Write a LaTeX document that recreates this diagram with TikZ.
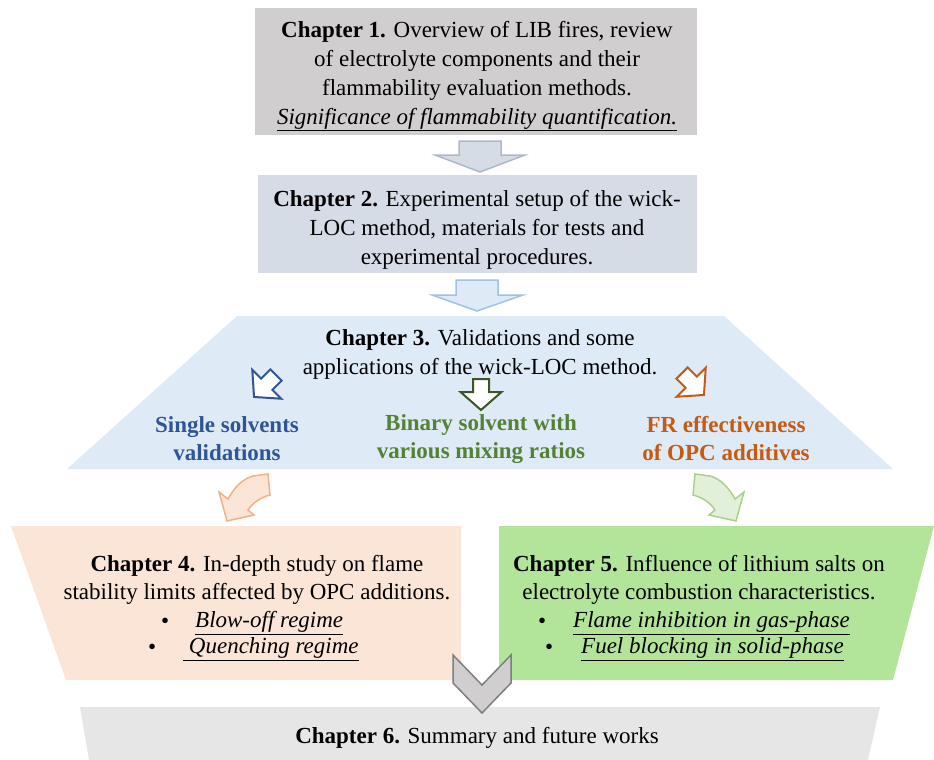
\documentclass[tikz,border=0pt]{standalone}
\usepackage{fontspec}
\setmainfont{Liberation Serif}
\definecolor{cAfill}{HTML}{D0CECE}
\definecolor{cBfill}{HTML}{D6DCE5}
\definecolor{cBline}{HTML}{ADB9CA}
\definecolor{cCfill}{HTML}{DEEBF7}
\definecolor{cCline}{HTML}{9DC3E6}
\definecolor{cDfill}{HTML}{FBE5D6}
\definecolor{cDline}{HTML}{F4B183}
\definecolor{cEfill}{HTML}{B2E59A}
\definecolor{cEsoft}{HTML}{E2F0D9}
\definecolor{cEline}{HTML}{A9D18E}
\definecolor{cFfill}{HTML}{E6E6E6}
\definecolor{chevline}{HTML}{7F7F7F}
\definecolor{tblue}{HTML}{2F5597}
\definecolor{tgreen}{HTML}{548235}
\definecolor{tdkgreen}{HTML}{385723}
\definecolor{torange}{HTML}{C55A11}
\begin{document}
\begin{tikzpicture}[x=1pt,y=-1pt,
  txt/.style={font=\fontsize{23}{29}\selectfont, align=center, inner sep=0pt},
  sub/.style={txt, font=\fontsize{23}{28}\selectfont\bfseries},
  blockarrow/.pic={\path[pic actions] (-8,-15.5) -- (8,-15.5) -- (8,-2.5) -- (20.5,-2.5) -- (0,15.5) -- (-20.5,-2.5) -- (-8,-2.5) -- cycle;}
]
\useasboundingbox (0,0) rectangle (934,760);

% Chapter 1
\fill[cAfill] (255,8) rectangle (697,135);
\node[txt] (c1) at (477,76) {\textbf{Chapter 1.} Overview of LIB fires, review\\of electrolyte components and their\\flammability evaluation methods.\\\underline{\textit{Significance of flammability quantification.}}};

% arrow 1
\draw[fill=cBfill, draw=cBline, line width=1.5pt] (459,141) -- (501,141) -- (501,155) -- (525,155) -- (480,172) -- (435,155) -- (459,155) -- cycle;

% Chapter 2
\fill[cBfill] (258,175) rectangle (697,273);
\node[txt] (c2) at (477,229.5) {\textbf{Chapter 2.} Experimental setup of the wick-\\LOC method, materials for tests and\\experimental procedures.};

% arrow 2
\draw[fill=cCfill, draw=cCline, line width=1.5pt] (456,280) -- (498,280) -- (498,295) -- (523,295) -- (477,311) -- (432,295) -- (456,295) -- cycle;

% Chapter 3
\fill[cCfill] (237,316) -- (724,316) -- (893,469) -- (67,469) -- cycle;
\node[txt] (c3) at (480,354) {\textbf{Chapter 3.} Validations and some\\applications of the wick-LOC method.};
\pic[draw=tblue, fill=white, line width=2pt, rotate=-45] at (265,386) {blockarrow};
\pic[draw=tdkgreen, fill=white, line width=2pt] at (481,394.5) {blockarrow};
\pic[draw=torange, fill=white, line width=2pt, rotate=45] at (693,384) {blockarrow};
\node[sub, text=tblue] (s1) at (227,439) {Single solvents\\validations};
\node[sub, text=tgreen] (s2) at (481,439) {Binary solvent with\\various mixing ratios};
\node[sub, text=torange] (s3) at (726,439) {FR effectiveness\\of OPC additives};

% curved arrows
\draw[fill=cDfill, draw=cDline, line width=1.5pt] (253,476) -- (268,474) -- (270,495)
  .. controls (262,497) and (253,502) .. (248,510) -- (254,515) -- (227,521) -- (219,492) -- (228,499)
  .. controls (234,488) and (242,479) .. (253,476) -- cycle;
\draw[fill=cEsoft, draw=cEline, line width=1.5pt] (710,476) -- (695,474) -- (693,495)
  .. controls (701,497) and (710,502) .. (715,510) -- (709,515) -- (736,521) -- (744,492) -- (735,499)
  .. controls (729,488) and (721,479) .. (710,476) -- cycle;

% Chapter 4
\fill[cDfill] (11,526) -- (461,526) -- (461,680) -- (66,680) -- cycle;
\node[txt, font=\fontsize{23}{28}\selectfont] (c4) at (257,580) {\textbf{Chapter 4.} In-depth study on flame\\stability limits affected by OPC additions.};
\node[txt, anchor=west] (b4a) at (161,623) {•};
\node[txt, anchor=west] (t4a) at (195,623) {\underline{\textit{Blow-off regime}}};
\node[txt, anchor=west] (b4b) at (148,649) {•};
\node[txt, anchor=west] (t4b) at (183,649) {\underline{\textit{\ Quenching regime}}};

% Chapter 5
\fill[cEfill] (499,526) -- (934,526) -- (893,680) -- (499,680) -- cycle;
\node[txt, font=\fontsize{23}{28}\selectfont] (c5) at (699,580) {\textbf{Chapter 5.} Influence of lithium salts on\\electrolyte combustion characteristics.};
\node[txt, anchor=west] (b5a) at (538,623) {•};
\node[txt, anchor=west] (t5a) at (573,623) {\underline{\textit{Flame inhibition in gas-phase}}};
\node[txt, anchor=west] (b5b) at (545,649) {•};
\node[txt, anchor=west] (t5b) at (581,649) {\underline{\textit{Fuel blocking in solid-phase}}};

% Chapter 6
\fill[cFfill] (80,707) -- (880,707) -- (868,760) -- (89,760) -- cycle;
\node[txt] (c6) at (477,738) {\textbf{Chapter 6.} Summary and future works};

% chevron
\draw[fill=cAfill, draw=chevline, line width=1.5pt] (453,655) -- (482,685) -- (511,655) -- (511,683) -- (482,713) -- (453,683) -- cycle;
\end{tikzpicture}
\end{document}
